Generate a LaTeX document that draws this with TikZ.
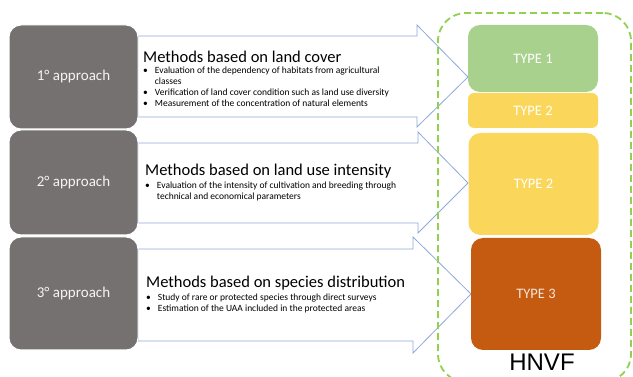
\documentclass[tikz,border=0pt]{standalone}
\usepackage{fontspec}
\setmainfont{Carlito}
\newfontfamily\hnvffont{Liberation Sans}
\usetikzlibrary{positioning}
\definecolor{apgray}{HTML}{767171}
\definecolor{arrowblue}{HTML}{8EA9DB}
\definecolor{typegreen}{HTML}{A9D18E}
\definecolor{typeyellow}{HTML}{FAD75A}
\definecolor{typeorange}{HTML}{C55A11}
\definecolor{framegreen}{HTML}{92D050}

\begin{document}
\begin{tikzpicture}[x=1pt,y=-1pt,
approach/.style={fill=apgray,draw=white,line width=1pt,rounded corners=12pt,
    minimum width=129pt,text=white!92!apgray,font=\fontsize{15}{17}\selectfont},
methodarrow/.style={draw=arrowblue,fill=white,line width=0.8pt,line join=miter},
methodtitle/.style={inner sep=0pt,anchor=base west,font=\fontsize{16.5}{19}\selectfont},
methodpoints/.style={inner sep=0pt,font=\fontsize{9.5}{10.5}\selectfont},
typebox/.style={rounded corners=12pt,minimum width=130pt,text=white,
    font=\fontsize{14.5}{16}\selectfont},
hnvfframe/.style={draw=framegreen,line width=1.8pt,dash pattern=on 7pt off 4pt,
    rounded corners=28pt,minimum width=193pt,minimum height=369pt}]
\useasboundingbox (0,0) rectangle (633,377);

% arrows behind the approach boxes
\draw[methodarrow] (138,36) -- (417,36) -- (417,25) -- (468,77) -- (417,127) -- (417,117) -- (138,117) -- cycle;
\draw[methodarrow] (138,143) -- (418,143) -- (418,132) -- (468,183) -- (418,233) -- (418,223) -- (138,223) -- cycle;
\draw[methodarrow] (138,249) -- (413,249) -- (413,237) -- (471,294) -- (413,353) -- (413,341) -- (138,341) -- cycle;

\node (app1) [approach,minimum height=104pt] at (73.5,77) {1° approach};
\node (app2) [approach,minimum height=105pt] at (73.5,182.5) {2° approach};
\node (app3) [approach,minimum height=113pt] at (73.5,293.5) {3° approach};

\node (ttl1) [methodtitle] at (143,63) {Methods based on land cover};
\node (pts1) [methodpoints,below=3pt of ttl1.base west,anchor=north west] {%
\begin{tabular}{@{}l@{\hspace{7pt}}l@{}}
\textbullet & Evaluation of the dependency of habitats from agricultural\\
 & classes\\[1pt]
\textbullet & Verification of land cover condition such as land use diversity\\
\textbullet & Measurement of the concentration of natural elements
\end{tabular}};

\node (ttl2) [methodtitle] at (145,176) {Methods based on land use intensity};
\node (pts2) [methodpoints,below=5pt of ttl2.base west,anchor=north west] {%
\begin{tabular}{@{}l@{\hspace{7pt}}l@{}}
\textbullet & Evaluation of the intensity of cultivation and breeding through\\
 & technical and economical parameters
\end{tabular}};

\node (ttl3) [methodtitle] at (146,288) {Methods based on species distribution};
\node (pts3) [methodpoints,below=5pt of ttl3.base west,anchor=north west] {%
\begin{tabular}{@{}l@{\hspace{7pt}}l@{}}
\textbullet & Study of rare or protected species through direct surveys\\
\textbullet & Estimation of the UAA included in the protected areas
\end{tabular}};

% HNVF frame and types
\node (frame) [hnvfframe] at (534.5,197.5) {};
\node (type1) [typebox,fill=typegreen,minimum height=67pt] at (533,58.5) {TYPE 1};
\node (type2a) [typebox,fill=typeyellow,rounded corners=6pt,minimum height=35pt] at (533,110.5) {TYPE 2};
\node (type2b) [typebox,fill=typeyellow,minimum height=102pt] at (533.5,184) {TYPE 2};
\node (type3) [typebox,fill=typeorange,text=white!85!typeorange,minimum height=112pt] at (536,294) {TYPE 3};
\node (hnvf) [inner sep=0pt,font=\hnvffont\fontsize{24}{26}\selectfont] at (542,362.5) {HNVF};
\end{tikzpicture}
\end{document}
